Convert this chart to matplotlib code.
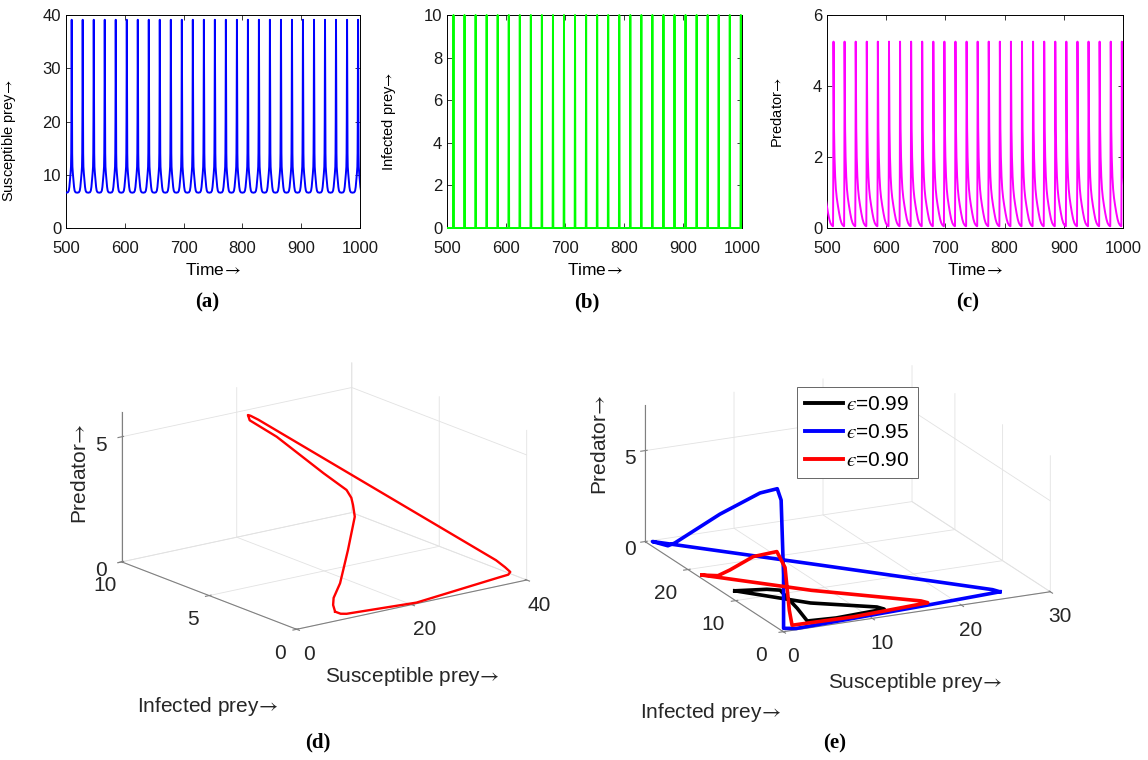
import numpy as np
import matplotlib
matplotlib.use('Agg')
import matplotlib.pyplot as plt
from matplotlib.patches import Rectangle
from matplotlib.lines import Line2D

W, H = 1148, 760

plt.rcParams['font.family'] = ['Liberation Sans', 'DejaVu Sans']
plt.rcParams['mathtext.fontset'] = 'stix'
plt.rcParams['grid.color'] = '#e2e2e2'
plt.rcParams['grid.linewidth'] = 0.6

# ---- time series (a)-(c): peak times ----
peak_times = [491.0, 509.7, 528.4, 547.2, 565.9, 584.6, 603.4, 622.1, 640.8,
              659.5, 678.3, 697.0, 715.7, 734.5, 753.2, 771.9, 790.7, 809.4,
              828.1, 846.8, 865.6, 884.3, 903.0, 921.8, 940.5, 959.2, 978.0,
              996.7, 1015.4]

# one cycle of each variable, time offset from the peak -> value
sus_offsets = [-9.36, -6.5, -5.0, -4.0, -3.0, -2.0, -1.2, -0.8, -0.5, -0.25,
               0.0, 0.25, 0.5, 0.8, 1.2, 2.0, 3.0, 4.0, 5.0, 6.5]
sus_values = [6.63, 6.7, 7.0, 7.7, 8.9, 10.2, 11.5, 14.0, 20.0, 30.0,
              39.1, 30.0, 20.0, 14.0, 11.5, 10.2, 8.9, 7.7, 7.0, 6.7]

inf_lag = 1.3
inf_offsets = [-9.36, -0.6, -0.2, 0.0, 0.2, 0.6]
inf_values = [0.0, 0.0, 6.0, 10.0, 6.0, 0.0]

pred_lag = 1.3
pred_offsets = [-0.8, -0.4, -0.15, 0.0, 0.4, 0.9, 1.7, 2.8, 4.0, 5.5, 7.5,
                9.5, 11.5, 13.5, 15.5, 17.5]
pred_values = [0.05, 1.5, 4.0, 5.25, 3.9, 2.8, 2.0, 1.45, 1.1, 0.85, 0.62,
               0.42, 0.25, 0.14, 0.08, 0.05]

# ---- phase portrait (d): (susceptible, infected, predator) ----
d_sus = [7.6, 8.2, 9.0, 21.0, 35.5, 37.1, 37.6, 37.3, 36.5, 19.5, 18.9, 18.6,
         18.4, 18.0, 17.7, 14.9, 13.7, 12.7, 11.9, 11.6, 10.6, 9.5, 7.8, 7.5,
         7.6]
d_inf = [0.3, 0.18, 0.1, 0.05, 0.1, 0.1, 0.15, 0.35, 0.6, 8.6, 8.85, 8.9,
         8.8, 8.6, 6.96, 3.36, 1.65, 1.05, 0.69, 0.49, 0.55, 0.64, 0.45, 0.38,
         0.3]
d_pred = [0.25, 0.17, 0.15, 0.02, 0.3, 0.33, 0.4, 0.55, 0.8, 5.1, 5.22, 5.25,
          5.22, 5.15, 4.95, 4.6, 4.45, 4.35, 4.2, 3.8, 2.5, 1.2, 0.75, 0.5,
          0.25]

# ---- phase portraits (e) for three epsilon values ----
eps_labels = ['$\u03f5$=0.99', '$\u03f5$=0.95', '$\u03f5$=0.90']
e099_sus = [1.3, 1.2, 1.2, 2.0, 2.8, 6.0, 11.5, 11.0, 6.0, 1.3]
e099_inf = [12.6, 5.7, 2.9, 0.8, 0.2, 0.1, 0.3, 0.9, 5.5, 12.6]
e099_pred = [0.0, 1.27, 1.7, 1.0, 0.35, 0.3, 0.35, 0.4, 0.2, 0.0]

e095_sus = [24.5, 24.0, 12.0, 0.3, 1.5, 2.0, 1.5, 1.0, 0.5, 0.4, 0.35, 0.3,
            1.5, 8.0, 16.0, 24.5]
e095_inf = [0.3, 0.9, 14.5, 28.0, 27.0, 26.5, 16.1, 6.75, 2.2, 1.2, 0.6, 0.5,
            0.1, 0.05, 0.1, 0.3]
e095_pred = [0.35, 0.4, 0.3, 0.15, 0.0, 0.2, 3.6, 6.4, 7.45, 7.0, 3.0, 0.08,
             0.05, 0.15, 0.25, 0.35]

e090_sus = [0.5, 1.5, 0.6, 0.7, 0.8, 1.0, 1.0, 1.2, 8.0, 16.5, 16.0, 8.0, 0.5]
e090_inf = [18.0, 16.5, 12.3, 7.6, 2.85, 1.5, 0.6, 0.4, 0.2, 0.5, 1.0, 9.0,
            18.0]
e090_pred = [0.0, 0.15, 1.25, 2.78, 3.86, 3.2, 1.0, 0.2, 0.2, 0.3, 0.35, 0.15,
             0.0]


def px_rect(x0, y0, x1, y1):
    return [x0 / W, 1 - y1 / H, (x1 - x0) / W, (y1 - y0) / H]


def build(peaks, lag, offsets, values):
    t = np.concatenate([p + lag + np.asarray(offsets) for p in peaks])
    v = np.tile(values, len(peaks))
    return t, v


fig = plt.figure(figsize=(W / 100, H / 100), dpi=100)
arrow = r'$\!\rightarrow$'

series = [
    (px_rect(66, 15, 360, 228), build(peak_times, 0.0, sus_offsets, sus_values),
     '#0000ff', (0, 40), [0, 10, 20, 30, 40], 'Susceptible prey', (-0.162, 0.413), '(a)', 207),
    (px_rect(447, 15, 742, 228), build(peak_times, inf_lag, inf_offsets, inf_values),
     '#00ff00', (0, 10), [0, 2, 4, 6, 8, 10], 'Infected prey', (-0.166, 0.50), '(b)', 587),
    (px_rect(827, 15, 1123, 228), build(peak_times, pred_lag, pred_offsets, pred_values),
     '#ff00ff', (0, 6), [0, 2, 4, 6], 'Predator', (-0.142, 0.54), '(c)', 968),
]

for rect, (t, v), col, ylim, yt, ylab, lab_xy, cap, cap_x in series:
    ax = fig.add_axes(rect)
    line, = ax.plot(t, v, color=col, lw=1.4, zorder=3)
    clip = Rectangle((0, -0.02), 1, 1.04, transform=ax.transAxes)
    line.set_clip_path(clip)
    ax.set_xlim(500, 1000)
    ax.set_ylim(*ylim)
    ax.set_xticks([500, 600, 700, 800, 900, 1000])
    ax.set_yticks(yt)
    ax.tick_params(direction='in', top=True, right=True, length=3.5, width=0.6,
                   labelsize=12, colors='0.1')
    ax.tick_params(axis='x', pad=9.5)
    ax.tick_params(axis='y', pad=3.5)
    for sp in ax.spines.values():
        sp.set_linewidth(0.7)
    ax.set_xlabel('Time' + arrow, fontsize=12.5, labelpad=4.5)
    ax.set_ylabel(ylab + arrow, fontsize=10.5)
    ax.yaxis.set_label_coords(*lab_xy)
    fig.text(cap_x / W, 1 - 302 / H, cap, ha='center', va='center',
             fontfamily='Liberation Serif', fontweight='bold', fontsize=15)


def style3d(ax, lims, ticks):
    ax.set_proj_type('ortho')
    ax.set_facecolor('none')
    ax.set_xlim(*lims[0])
    ax.set_ylim(*lims[1])
    ax.set_zlim(*lims[2])
    ax.set_xticks(ticks[0])
    ax.set_yticks(ticks[1])
    ax.set_zticks(ticks[2])
    for axis in (ax.xaxis, ax.yaxis, ax.zaxis):
        axis.set_pane_color((1, 1, 1, 0))
        axis.pane.set_edgecolor('none')
        axis.line.set_color('0.5')
        axis.line.set_linewidth(0.8)
        axis._axinfo['grid']['color'] = '#e2e2e2'
        axis._axinfo['grid']['linewidth'] = 0.6
        axis.set_label_text('')
    ax.tick_params(labelsize=15, labelcolor='0.15', colors='0.5')


def project(ax, xs, ys, zs):
    M = ax.get_proj()
    v = M @ np.vstack([xs, ys, zs, np.ones(len(xs))])
    return ax.transData.transform(np.column_stack([v[0] / v[3], v[1] / v[3]]))


def fit_box(ax, lims, target):
    cx, cy, cz = np.meshgrid(lims[0], lims[1], lims[2])
    cx, cy, cz = cx.ravel(), cy.ravel(), cz.ravel()
    tx0, tyt, tx1, tyb = target
    for _ in range(3):
        fig.canvas.draw()
        pts = project(ax, cx, cy, cz)
        bx0, by0 = pts.min(0)
        bx1, by1 = pts.max(0)
        sc = 0.5 * ((tx1 - tx0) / (bx1 - bx0) + (tyb - tyt) / (by1 - by0))
        pos = ax.get_position()
        px0, py0 = pos.x0 * W, pos.y0 * H
        pw, ph = pos.width * W, pos.height * H
        cxb, cyb = 0.5 * (bx0 + bx1), 0.5 * (by0 + by1)
        tcx, tcy = 0.5 * (tx0 + tx1), H - 0.5 * (tyt + tyb)
        nx0 = tcx - sc * (cxb - px0)
        ny0 = tcy - sc * (cyb - py0)
        ax.set_position([nx0 / W, ny0 / H, pw * sc / W, ph * sc / H])


# ---- (d) ----
lims_d = [(0, 40), (0, 10), (0, 6)]
ax_d = fig.add_axes([0.05, 0.05, 0.4, 0.4], projection='3d')
style3d(ax_d, lims_d, ([0, 20, 40], [0, 5, 10], [0, 5]))
ax_d.zaxis.set_tick_params(pad=0)
ax_d.view_init(elev=16.7, azim=-126.7)
ax_d.set_box_aspect((1, 1.02, 0.546))
ax_d.plot(d_sus, d_inf, d_pred, color='#ff0000', lw=1.7)
fit_box(ax_d, lims_d, (121.7, 362.5, 526.7, 629.3))

# ---- (e) ----
lims_e = [(0, 30), (0, 29), (0, 7.5)]
ax_e = fig.add_axes([0.55, 0.05, 0.4, 0.4], projection='3d')
style3d(ax_e, lims_e, ([0, 10, 20, 30], [0, 10, 20], [0, 5]))
ax_e.zaxis.set_tick_params(pad=-2)
ax_e.yaxis.set_tick_params(pad=6)
ax_e.view_init(elev=18.2, azim=-115.6)
ax_e.set_box_aspect((1, 1.081, 0.485))
ax_e.plot(e099_sus, e099_inf, e099_pred, color='black', lw=2.6)
ax_e.plot(e095_sus, e095_inf, e095_pred, color='#0000ff', lw=2.6)
ax_e.plot(e090_sus, e090_inf, e090_pred, color='#ff0000', lw=2.6)
fit_box(ax_e, lims_e, (645.0, 365.2, 1050.3, 631.7))

handles = [Line2D([], [], color=c, lw=2.8) for c in ('black', '#0000ff', '#ff0000')]
leg = ax_e.legend(handles, eps_labels, loc='upper left',
                  bbox_to_anchor=(797 / W, 1 - 387 / H), bbox_transform=fig.transFigure,
                  borderaxespad=0, fontsize=15, handlelength=1.8, handletextpad=0.15,
                  borderpad=0.4, labelspacing=0.42, fancybox=False, framealpha=1)
leg.get_frame().set_edgecolor('0.4')
leg.get_frame().set_linewidth(0.7)

# axis titles of the 3D panels
lab3 = dict(fontsize=15, color='0.15', ha='center', va='center')
fig.text(80 / W, 1 - 474 / H, 'Predator' + arrow, rotation=90, **lab3)
fig.text(412 / W, 1 - 677 / H, 'Susceptible prey' + arrow, **lab3)
fig.text(208 / W, 1 - 707 / H, 'Infected prey' + arrow, **lab3)
fig.text(600 / W, 1 - 445 / H, 'Predator' + arrow, rotation=90, **lab3)
fig.text(915 / W, 1 - 682 / H, 'Susceptible prey' + arrow, **lab3)
fig.text(711 / W, 1 - 712 / H, 'Infected prey' + arrow, **lab3)

cap = dict(ha='center', va='center', fontfamily='Liberation Serif',
           fontweight='bold', fontsize=15)
fig.text(318 / W, 1 - 742 / H, '(d)', **cap)
fig.text(835 / W, 1 - 743 / H, '(e)', **cap)

fig.savefig('out.png', dpi=100)
